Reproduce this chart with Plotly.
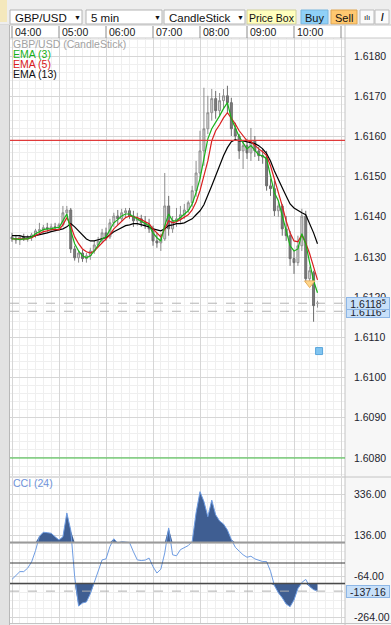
import plotly.graph_objects as go
import pandas as pd

W, H = 391, 625

# ---------------- data ----------------
symbol = "GBP/USD"
timeframe = "5 min"
chart_type = "CandleStick"
start_time = "2014-06-10 04:00"
times = pd.date_range(start_time, periods=79, freq="5min")

open_ = [1.61350, 1.61345, 1.61343, 1.61350, 1.61345, 1.61348, 1.61355, 1.61365, 1.61368, 1.61373,
         1.61370, 1.61375, 1.61373, 1.61380, 1.61410, 1.61417, 1.61320, 1.61298, 1.61310, 1.61296,
         1.61303, 1.61315, 1.61330, 1.61340, 1.61360, 1.61350, 1.61385, 1.61402, 1.61395, 1.61410,
         1.61415, 1.61402, 1.61390, 1.61395, 1.61385, 1.61380, 1.61370, 1.61340, 1.61335, 1.61345,
         1.61427, 1.61370, 1.61390, 1.61395, 1.61405, 1.61417, 1.61435, 1.61465, 1.61509, 1.61564,
         1.61619, 1.61659, 1.61694, 1.61664, 1.61689, 1.61701, 1.61684, 1.61619, 1.61601, 1.61564,
         1.61577, 1.61559, 1.61589, 1.61564, 1.61552, 1.61549, 1.61477, 1.61470, 1.61415, 1.61427,
         1.61370, 1.61353, 1.61296, 1.61286, 1.61328, 1.61402, 1.61246, 1.61261, 1.61184]
high = [1.61360, 1.61355, 1.61353, 1.61358, 1.61355, 1.61360, 1.61370, 1.61385, 1.61380, 1.61385,
        1.61383, 1.61385, 1.61385, 1.61427, 1.61427, 1.61422, 1.61328, 1.61315, 1.61318, 1.61310,
        1.61323, 1.61340, 1.61350, 1.61370, 1.61373, 1.61395, 1.61410, 1.61417, 1.61420, 1.61422,
        1.61422, 1.61415, 1.61410, 1.61405, 1.61402, 1.61395, 1.61378, 1.61360, 1.61358, 1.61509,
        1.61452, 1.61402, 1.61422, 1.61427, 1.61432, 1.61440, 1.61477, 1.61539, 1.61614, 1.61721,
        1.61701, 1.61718, 1.61713, 1.61708, 1.61718, 1.61726, 1.61696, 1.61634, 1.61606, 1.61589,
        1.61594, 1.61621, 1.61601, 1.61574, 1.61569, 1.61564, 1.61495, 1.61490, 1.61440, 1.61432,
        1.61402, 1.61365, 1.61315, 1.61353, 1.61420, 1.61415, 1.61276, 1.61266, 1.61191]
low = [1.61338, 1.61333, 1.61330, 1.61340, 1.61338, 1.61340, 1.61348, 1.61358, 1.61360, 1.61363,
       1.61363, 1.61365, 1.61365, 1.61375, 1.61400, 1.61310, 1.61291, 1.61286, 1.61288, 1.61286,
       1.61293, 1.61308, 1.61325, 1.61335, 1.61340, 1.61345, 1.61375, 1.61380, 1.61388, 1.61398,
       1.61395, 1.61375, 1.61378, 1.61375, 1.61370, 1.61360, 1.61328, 1.61323, 1.61315, 1.61340,
       1.61353, 1.61360, 1.61375, 1.61385, 1.61395, 1.61410, 1.61425, 1.61450, 1.61495, 1.61527,
       1.61606, 1.61639, 1.61644, 1.61649, 1.61669, 1.61659, 1.61601, 1.61589, 1.61544, 1.61519,
       1.61544, 1.61539, 1.61549, 1.61539, 1.61532, 1.61465, 1.61452, 1.61402, 1.61400, 1.61353,
       1.61340, 1.61278, 1.61258, 1.61278, 1.61315, 1.61236, 1.61226, 1.61139, 1.61174]
close = [1.61345, 1.61343, 1.61350, 1.61345, 1.61348, 1.61355, 1.61365, 1.61368, 1.61373, 1.61370,
         1.61375, 1.61373, 1.61380, 1.61410, 1.61417, 1.61320, 1.61298, 1.61310, 1.61296, 1.61303,
         1.61315, 1.61330, 1.61340, 1.61360, 1.61350, 1.61385, 1.61402, 1.61395, 1.61410, 1.61415,
         1.61402, 1.61390, 1.61395, 1.61385, 1.61380, 1.61370, 1.61340, 1.61335, 1.61345, 1.61427,
         1.61370, 1.61390, 1.61395, 1.61405, 1.61417, 1.61435, 1.61465, 1.61509, 1.61564, 1.61619,
         1.61659, 1.61694, 1.61664, 1.61689, 1.61701, 1.61684, 1.61619, 1.61601, 1.61564, 1.61577,
         1.61559, 1.61589, 1.61564, 1.61552, 1.61549, 1.61477, 1.61470, 1.61415, 1.61427, 1.61370,
         1.61353, 1.61296, 1.61286, 1.61328, 1.61402, 1.61246, 1.61266, 1.61179, 1.61185]

ema3 = [1.61345, 1.61345, 1.61343, 1.61345, 1.61345, 1.61350, 1.61358, 1.61363, 1.61368, 1.61370,
        1.61370, 1.61373, 1.61373, 1.61390, 1.61407, 1.61365, 1.61333, 1.61315, 1.61303, 1.61298,
        1.61303, 1.61315, 1.61330, 1.61345, 1.61350, 1.61368, 1.61385, 1.61393, 1.61402, 1.61407,
        1.61407, 1.61400, 1.61395, 1.61390, 1.61385, 1.61378, 1.61360, 1.61348, 1.61340, 1.61378,
        1.61407, 1.61390, 1.61390, 1.61398, 1.61405, 1.61415, 1.61432, 1.61460, 1.61495, 1.61544,
        1.61594, 1.61619, 1.61634, 1.61651, 1.61669, 1.61684, 1.61644, 1.61619, 1.61599, 1.61584,
        1.61569, 1.61577, 1.61564, 1.61554, 1.61552, 1.61544, 1.61502, 1.61460, 1.61440, 1.61402,
        1.61365, 1.61328, 1.61315, 1.61320, 1.61358, 1.61333, 1.61286, 1.61241, 1.61211]
ema5 = [1.61345, 1.61345, 1.61345, 1.61345, 1.61345, 1.61348, 1.61353, 1.61358, 1.61363, 1.61365,
        1.61368, 1.61368, 1.61368, 1.61380, 1.61398, 1.61378, 1.61350, 1.61333, 1.61320, 1.61313,
        1.61310, 1.61315, 1.61325, 1.61335, 1.61343, 1.61355, 1.61370, 1.61380, 1.61390, 1.61398,
        1.61402, 1.61400, 1.61398, 1.61393, 1.61388, 1.61383, 1.61370, 1.61360, 1.61350, 1.61370,
        1.61390, 1.61385, 1.61388, 1.61393, 1.61398, 1.61405, 1.61417, 1.61437, 1.61465, 1.61502,
        1.61539, 1.61589, 1.61614, 1.61629, 1.61646, 1.61659, 1.61646, 1.61631, 1.61614, 1.61601,
        1.61589, 1.61587, 1.61577, 1.61569, 1.61562, 1.61552, 1.61527, 1.61495, 1.61465, 1.61427,
        1.61390, 1.61360, 1.61340, 1.61338, 1.61355, 1.61335, 1.61308, 1.61273, 1.61243]
ema13 = [1.61353, 1.61353, 1.61353, 1.61350, 1.61350, 1.61350, 1.61353, 1.61355, 1.61358, 1.61360,
         1.61363, 1.61365, 1.61368, 1.61370, 1.61375, 1.61383, 1.61375, 1.61365, 1.61355, 1.61345,
         1.61340, 1.61340, 1.61343, 1.61345, 1.61348, 1.61355, 1.61363, 1.61368, 1.61373, 1.61378,
         1.61380, 1.61383, 1.61383, 1.61380, 1.61378, 1.61375, 1.61370, 1.61368, 1.61365, 1.61370,
         1.61378, 1.61380, 1.61383, 1.61383, 1.61385, 1.61390, 1.61395, 1.61405, 1.61415, 1.61430,
         1.61452, 1.61477, 1.61502, 1.61529, 1.61552, 1.61572, 1.61587, 1.61592, 1.61589, 1.61589,
         1.61587, 1.61584, 1.61582, 1.61577, 1.61569, 1.61557, 1.61539, 1.61514, 1.61495, 1.61472,
         1.61452, 1.61432, 1.61422, 1.61415, 1.61410, 1.61405, 1.61383, 1.61360, 1.61333]

cci24 = [-80, -60, -42, -42, -25, 5, 60, 130, 150, 148,
         145, 128, 112, 128, 244, 160, -67, -210, -195, -190,
         -150, -95, -34, 15, 20, 80, 118, 98, 104, 102,
         100, 55, 15, 12, 14, 24, -18, -49, -30, 49,
         171, 40, 35, 65, 75, 85, 104, 245, 348, 300,
         226, 307, 235, 205, 190, 161, 115, 77, 58, 40,
         28, 33, 20, 12, 7, 7, -40, -110, -145, -170,
         -200, -213, -180, -125, -95, -80, -115, -130, -137.16]

hour_labels = ["04:00", "05:00", "06:00", "07:00", "08:00", "09:00", "10:00"]
hour_marks = hour_labels + ["11:00"]
price_ticks = [1.6080, 1.6090, 1.6100, 1.6110, 1.6120, 1.6130, 1.6140, 1.6150, 1.6160, 1.6170, 1.6180]
cci_ticks = [336, 136, -64, -264]
cci_levels = [100, 0, -100]
cci_last = -137.16
resistance_price = 1.61590
support_price = 1.60800
bid_price, bid_text = 1.61185, "1.6118<sup>5</sup>"
ask_price, ask_text = 1.61165, "1.6116<sup>5</sup>"
signal_time, signal_price = "2014-06-10 10:20", 1.61235
order_time, order_price = "2014-06-10 10:32", 1.61066
day = "2014-06-10"

# ---------------- helpers (pixel -> paper) ----------------
def px(x):
    return x / W


def py(y):
    return 1 - y / H


FONT = "Liberation Sans, Arial, DejaVu Sans, sans-serif"

fig = go.Figure()

# candles
fig.add_trace(go.Candlestick(
    x=times, open=open_, high=high, low=low, close=close,
    xaxis="x", yaxis="y",
    increasing=dict(line=dict(color="#8e8e8e", width=1), fillcolor="#d9d9d9"),
    decreasing=dict(line=dict(color="#6c6c6c", width=1), fillcolor="#7c7c7c"),
    whiskerwidth=0, showlegend=False, hoverinfo="skip"))

for vals, col in [(ema13, "#000000"), (ema5, "#d91e1e"), (ema3, "#19b219")]:
    fig.add_trace(go.Scatter(x=times, y=vals, mode="lines", line=dict(color=col, width=1.2),
                             xaxis="x", yaxis="y", showlegend=False, hoverinfo="skip"))

fig.add_trace(go.Scatter(x=[signal_time], y=[signal_price], mode="markers",
                         marker=dict(symbol="triangle-down", size=9, color="#ffd68a",
                                     line=dict(color="#e8b060", width=1)),
                         xaxis="x", yaxis="y", showlegend=False, hoverinfo="skip"))
fig.add_trace(go.Scatter(x=[order_time], y=[order_price], mode="markers",
                         marker=dict(symbol="square", size=7, color="#80c4f0",
                                     line=dict(color="#5aa6dc", width=1)),
                         xaxis="x", yaxis="y", showlegend=False, hoverinfo="skip"))

# CCI fills
upper = [max(v, cci_levels[0]) for v in cci24]
lower = [min(v, cci_levels[2]) for v in cci24]
fig.add_trace(go.Scatter(x=times, y=[cci_levels[0]] * len(times), mode="lines", line=dict(width=0),
                         xaxis="x2", yaxis="y2", showlegend=False, hoverinfo="skip"))
fig.add_trace(go.Scatter(x=times, y=upper, mode="lines", line=dict(width=0), fill="tonexty",
                         fillcolor="#3f5e92", xaxis="x2", yaxis="y2", showlegend=False, hoverinfo="skip"))
fig.add_trace(go.Scatter(x=times, y=[cci_levels[2]] * len(times), mode="lines", line=dict(width=0),
                         xaxis="x2", yaxis="y2", showlegend=False, hoverinfo="skip"))
fig.add_trace(go.Scatter(x=times, y=lower, mode="lines", line=dict(width=0), fill="tonexty",
                         fillcolor="#3f5e92", xaxis="x2", yaxis="y2", showlegend=False, hoverinfo="skip"))
fig.add_trace(go.Scatter(x=times, y=cci24, mode="lines", line=dict(color="#6e9ce2", width=1),
                         xaxis="x2", yaxis="y2", showlegend=False, hoverinfo="skip"))

# ---------------- layout ----------------
x_range = [day + " 03:57:27", day + " 11:05:06"]
grid_major = "#d6d6d6"
grid_minor = "#efefef"
xcommon = dict(type="date", range=x_range, showticklabels=False, showgrid=True,
               gridcolor=grid_major, gridwidth=1, dtick=3600000, tick0=start_time,
               minor=dict(dtick=600000, tick0=start_time, showgrid=True, gridcolor=grid_minor),
               zeroline=False, showline=False, ticks="", fixedrange=True)

fig.update_layout(
    width=W, height=H, autosize=False,
    margin=dict(l=0, r=0, t=0, b=0),
    paper_bgcolor="#f7f7f7", plot_bgcolor="#ffffff",
    showlegend=False,
    font=dict(family=FONT, size=10, color="#222"),
    xaxis=dict(domain=[px(10), px(345)], anchor="y", rangeslider=dict(visible=False), **xcommon),
    xaxis2=dict(domain=[px(10), px(345)], anchor="y2", matches="x", **xcommon),
    yaxis=dict(domain=[py(476), py(38)], side="right", anchor="x",
               range=[1.607552, 1.618448], tickmode="array", tickvals=price_ticks,
               ticktext=[f"{v:.4f}" for v in price_ticks], ticks="", ticklabelstandoff=8,
               tickfont=dict(family=FONT, size=10.5, color="#1e1e2e"),
               showgrid=True, gridcolor=grid_major,
               minor=dict(tick0=1.6080, dtick=0.0002, showgrid=True, gridcolor=grid_minor),
               zeroline=False, showline=False),
    yaxis2=dict(domain=[py(623), py(478)], side="right", anchor="x2",
                range=[-292.7, 414.6], tickmode="array", tickvals=cci_ticks,
                ticktext=[f"{v:.2f}" for v in cci_ticks], ticks="", ticklabelstandoff=8,
                tickfont=dict(family=FONT, size=10.5, color="#1e1e2e"),
                showgrid=True, gridcolor=grid_major,
                minor=dict(tick0=336, dtick=40, showgrid=True, gridcolor=grid_minor),
                zeroline=False, showline=False),
)

shapes = []
ann = []


def rect(x0, y0, x1, y1, fill, line=None, lw=1, layer="above"):
    shapes.append(dict(type="rect", xref="paper", yref="paper", x0=px(x0), x1=px(x1),
                       y0=py(y1), y1=py(y0), fillcolor=fill, layer=layer,
                       line=dict(color=line or fill, width=lw if line else 0)))


def hline_px(y, x0, x1, color, width=1, dash="solid"):
    shapes.append(dict(type="line", xref="paper", yref="paper", x0=px(x0), x1=px(x1),
                       y0=py(y), y1=py(y), line=dict(color=color, width=width, dash=dash)))


def vline_px(x, y0, y1, color, width=1):
    shapes.append(dict(type="line", xref="paper", yref="paper", x0=px(x), x1=px(x),
                       y0=py(y0), y1=py(y1), line=dict(color=color, width=width)))


def text(x, y, s, size=11, color="#111", anchor="left", **kw):
    ann.append(dict(xref="paper", yref="paper", x=px(x), y=py(y), text=s, showarrow=False,
                    xanchor=anchor, yanchor="middle", font=dict(family=FONT, size=size, color=color), **kw))


# toolbar
rect(0, 0, 391, 25, "#eeeeee")
rect(0, 0, 7, 22, "#f4e8bc")
for (x0, x1, label) in [(10, 82, symbol), (86, 162, timeframe), (164, 245, chart_type)]:
    rect(x0, 10, x1, 24, "#ffffff", "#b4b4b4")
    text(x0 + 3, 17.5, label, size=11.5)
    text(x1 - 5, 17.5, "▼", size=7, anchor="center")
rect(247, 10, 296, 24, "#ffffbd", "#cfcf9a")
text(271.5, 17.5, "Price Box", size=10.5, anchor="center")
rect(301, 10, 328, 24, "#8fd0f7", "#78b6df")
text(314.5, 17.5, "Buy", size=11, anchor="center")
rect(331, 10, 357, 24, "#ffc870", "#dfa653")
text(344, 17.5, "Sell", size=11, anchor="center")
rect(360, 10, 374, 24, "#fbfbfb", "#bdbdbd")
text(367, 17.5, "ılı", size=8, anchor="center")
rect(375, 10, 389, 24, "#fbfbfb", "#bdbdbd")
text(382, 17.5, "<b>/</b>", size=10, anchor="center")

# time header
rect(10, 25, 391, 38, "#ffffff")
hline_px(25, 0, 391, "#c4c4c4")
hline_px(38, 10, 391, "#c8c8c8")
for h in hour_marks:
    shapes.append(dict(type="line", xref="x", yref="paper", x0=day + " " + h, x1=day + " " + h,
                       y0=py(38), y1=py(26), line=dict(color="#8a8a8a", width=1)))
for h in hour_labels:
    ann.append(dict(xref="x", yref="paper", x=day + " " + h, y=py(32), text=h, showarrow=False,
                    xanchor="left", yanchor="middle", xshift=1,
                    font=dict(family=FONT, size=10.5, color="#1a1a1a")))

# left strip and borders
rect(0, 25, 9, 625, "#e2e2e2")
vline_px(9.5, 25, 625, "#b8b8b8")
vline_px(345, 25, 625, "#c4c4c4")
hline_px(477, 10, 391, "#c4c4c4")
hline_px(623.5, 10, 391, "#c4c4c4")

# price lines
for price, col in [(resistance_price, "#e03a3a"), (support_price, "#43c043")]:
    shapes.append(dict(type="line", xref="paper", yref="y", x0=px(10), x1=px(345),
                       y0=price, y1=price, line=dict(color=col, width=1.2)))
for price in [bid_price, ask_price]:
    shapes.append(dict(type="line", xref="paper", yref="y", x0=px(10), x1=px(345),
                       y0=price, y1=price, line=dict(color="#b4b4b4", width=1, dash="dash")))

# CCI level lines
for lev, col, wd in zip(cci_levels, ["#9a9a9a", "#3a3a3a", "#4a4a4a"], [2, 1, 1.5]):
    shapes.append(dict(type="line", xref="paper", yref="y2", x0=px(10), x1=px(345),
                       y0=lev, y1=lev, line=dict(color=col, width=wd)))
shapes.append(dict(type="line", xref="paper", yref="y2", x0=px(10), x1=px(345),
                   y0=cci_last, y1=cci_last, line=dict(color="#b0b0b0", width=1, dash="dash")))

# legend texts
text(11, 44, f"{symbol} ({chart_type})", size=10.5, color="#a2a2a2")
text(11, 54, "EMA (3)", size=10.5, color="#18b018")
text(11, 64, "EMA (5)", size=10.5, color="#d82020")
text(11, 74, "EMA (13)", size=10.5, color="#111111")
text(11, 483, "CCI (24)", size=10.5, color="#6f93da")

# axis price boxes (drawn in order, later on top)
box = dict(bgcolor="#c8e0f9", bordercolor="#8db6e6", borderwidth=1, width=42, height=11, borderpad=0)
ann.append(dict(xref="paper", yref="y", x=px(368), y=ask_price, text=ask_text, showarrow=False,
                xanchor="center", yanchor="middle", font=dict(family=FONT, size=10.5, color="#1e1e2e"), **box))
ann.append(dict(xref="paper", yref="y", x=px(368), y=bid_price, text=bid_text, showarrow=False,
                xanchor="center", yanchor="middle", font=dict(family=FONT, size=10.5, color="#1e1e2e"), **box))
ann.append(dict(xref="paper", yref="y2", x=px(368), y=cci_last, text=f"{cci_last:.2f}", showarrow=False,
                xanchor="center", yanchor="middle", font=dict(family=FONT, size=10.5, color="#1e1e2e"), **box))

fig.update_layout(shapes=shapes, annotations=ann)
fig.write_html("out.html")
